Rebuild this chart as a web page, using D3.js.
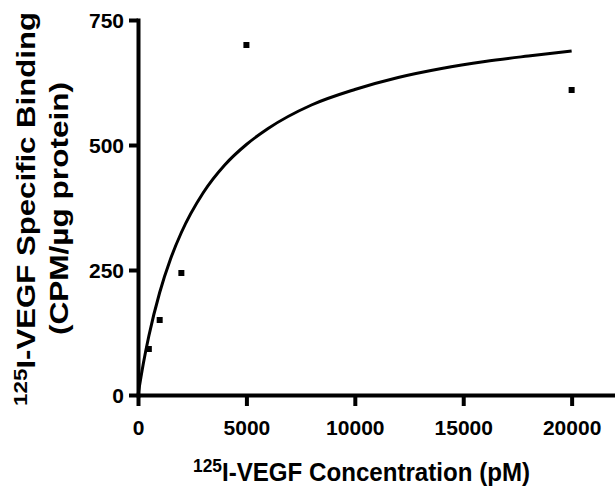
<!DOCTYPE html>
<html>
<head>
<meta charset="utf-8">
<script src="https://cdn.jsdelivr.net/npm/d3@7"></script>
<style>
  html, body { margin: 0; padding: 0; background: #fff; }
  svg { display: block; }
  text { font-family: "Liberation Sans", Arial, sans-serif; font-weight: bold; fill: #000; }
</style>
</head>
<body>
<svg id="chart" width="615" height="496"></svg>
<script>
// Measured data points (concentration pM, specific binding CPM/µg protein)
const concentration = [500, 1000, 2000, 5000, 20000];
const binding = [92, 150, 244, 700, 610];

// Fitted saturation curve
const curveX = [0, 250, 500, 1000, 1500, 2000, 3000, 4000, 5000, 6000, 8000, 10000, 12000, 14000, 16000, 18000, 20000];
const curveY = [0, 64, 118, 205, 272, 325, 404, 460, 501, 533, 580, 611, 635, 653, 667, 678, 688];

const xTicks = [0, 5000, 10000, 15000, 20000];
const yTicks = [0, 250, 500, 750];

const svg = d3.select("#chart");
const x = d3.scaleLinear().domain([0, 22000]).range([138, 615]);
const y = d3.scaleLinear().domain([0, 750]).range([395, 20]);

// X axis
const gx = svg.append("g").attr("transform", `translate(0,${y(0)})`)
  .call(d3.axisBottom(x).tickValues(xTicks).tickFormat(d3.format("d")).tickSize(11).tickSizeOuter(0));
gx.select(".domain").attr("stroke", "#000").attr("stroke-width", 4);
gx.selectAll(".tick line").attr("stroke", "#000").attr("stroke-width", 4);
gx.selectAll(".tick text").attr("y", 40).attr("dy", 0).attr("font-size", 21)
  .style("font-family", "'Liberation Sans', Arial, sans-serif").style("font-weight", "bold");

// Y axis
const gy = svg.append("g").attr("transform", `translate(${x(0)},0)`)
  .call(d3.axisLeft(y).tickValues(yTicks).tickFormat(d3.format("d")).tickSize(9).tickPadding(5).tickSizeOuter(0));
gy.select(".domain").attr("stroke", "#000").attr("stroke-width", 4).attr("stroke-linecap", "square");
gy.selectAll(".tick line").attr("stroke", "#000").attr("stroke-width", 4);
gy.selectAll(".tick text").attr("font-size", 21).attr("dy", "0.36em")
  .style("font-family", "'Liberation Sans', Arial, sans-serif").style("font-weight", "bold");

// Curve
const pts = curveX.map((d, i) => [d, curveY[i]]);
svg.append("path")
  .datum(pts)
  .attr("fill", "none")
  .attr("stroke", "#000")
  .attr("stroke-width", 3)
  .attr("d", d3.line().x(d => x(d[0])).y(d => y(d[1])).curve(d3.curveMonotoneX));

// Points
svg.append("g").selectAll("rect")
  .data(concentration.map((d, i) => [d, binding[i]]))
  .join("rect")
  .attr("x", d => x(d[0]) - 3)
  .attr("y", d => y(d[1]) - 3)
  .attr("width", 6)
  .attr("height", 6)
  .attr("fill", "#000");

// X axis title (single text with superscript)
const xt = svg.append("text").attr("x", 193).attr("y", 481).attr("font-size", 25)
  .attr("textLength", 337).attr("lengthAdjust", "spacingAndGlyphs");
xt.append("tspan").attr("font-size", 18).attr("dy", -9).text("125");
xt.append("tspan").attr("dy", 9).text("I-VEGF Concentration (pM)");

// Y axis title (two lines, rotated)
const yt1 = svg.append("text").attr("transform", "translate(35,406) rotate(-90)").attr("font-size", 25)
  .attr("textLength", 394).attr("lengthAdjust", "spacingAndGlyphs");
yt1.append("tspan").attr("font-size", 18).attr("dy", -8).text("125");
yt1.append("tspan").attr("dy", 8).text("I-VEGF Specific Binding");
svg.append("text").attr("transform", "translate(68,335) rotate(-90)").attr("font-size", 25)
  .attr("textLength", 253).attr("lengthAdjust", "spacingAndGlyphs").text("(CPM/µg protein)");
</script>
</body>
</html>
